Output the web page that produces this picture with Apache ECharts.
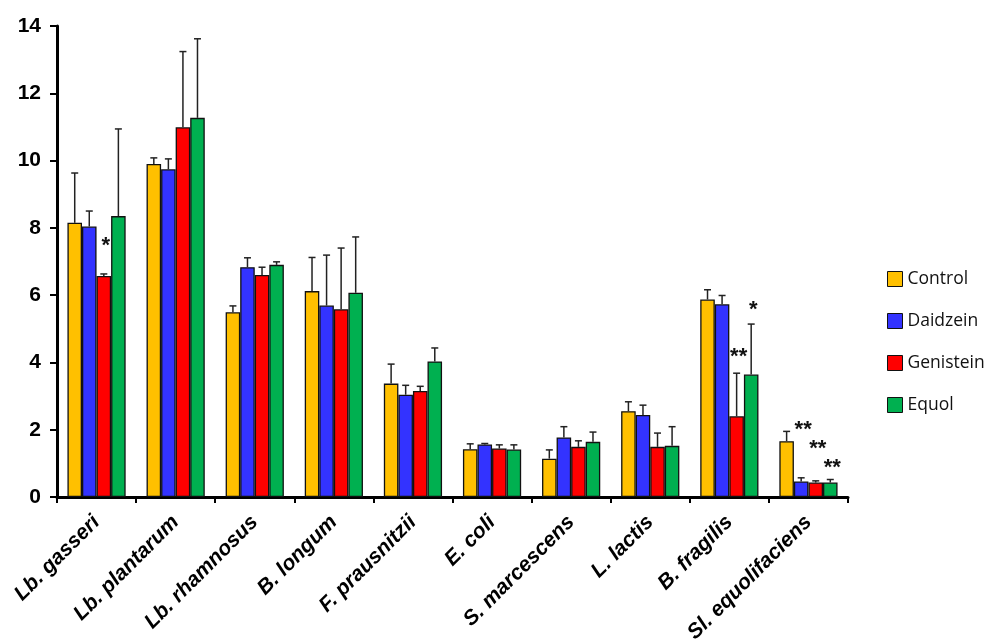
<!DOCTYPE html>
<html>
<head>
<meta charset="utf-8">
<script src="https://cdn.jsdelivr.net/npm/echarts@6/dist/echarts.min.js"></script>
<style>
  html, body { margin: 0; padding: 0; background: #fff; }
  #main { width: 986px; height: 641px; }
</style>
</head>
<body>
<div id="main"></div>
<script>
// data
var categories = ['Lb. gasseri', 'Lb. plantarum', 'Lb. rhamnosus', 'B. longum', 'F. prausnitzii',
  'E. coli', 'S. marcescens', 'L. lactis', 'B. fragilis', 'Sl. equolifaciens'];
var seriesNames = ['Control', 'Daidzein', 'Genistein', 'Equol'];
var colors = ['#FFC000', '#3333FF', '#FF0000', '#00B050'];

var control   = [8.15, 9.90, 5.49, 6.12, 3.37, 1.42, 1.14, 2.55, 5.87, 1.66];
var daidzein  = [8.04, 9.74, 6.83, 5.69, 3.04, 1.56, 1.77, 2.44, 5.73, 0.46];
var genistein = [6.57, 10.99, 6.60, 5.58, 3.15, 1.44, 1.49, 1.49, 2.40, 0.43];
var equol     = [8.35, 11.27, 6.90, 6.07, 4.03, 1.41, 1.64, 1.52, 3.64, 0.43];

// upper error (SD)
var controlErr   = [1.48, 0.18, 0.19, 1.00, 0.58, 0.16, 0.26, 0.28, 0.29, 0.29];
var daidzeinErr  = [0.46, 0.31, 0.28, 1.50, 0.28, 0.03, 0.32, 0.29, 0.26, 0.11];
var genisteinErr = [0.06, 2.25, 0.23, 1.82, 0.14, 0.11, 0.18, 0.41, 1.28, 0.05];
var equolErr     = [2.59, 2.35, 0.09, 1.66, 0.40, 0.14, 0.29, 0.57, 1.50, 0.09];

// significance marks: [category index, series index, y position, text]
var marks = [
  [0, 2, 7.45, '*'],
  [8, 2, 4.15, '**'],
  [8, 3, 5.55, '*'],
  [9, 1, 1.98, '**'],
  [9, 2, 1.44, '**'],
  [9, 3, 0.87, '**']
];

var yTicks = [0, 2, 4, 6, 8, 10, 12, 14];

var values = [control, daidzein, genistein, equol];
var errors = [controlErr, daidzeinErr, genisteinErr, equolErr];
var BAR_FRAC = 0.184;

var myChart = echarts.init(document.getElementById('main'));

var series = [];
values.forEach(function (v, s) {
  series.push({
    name: seriesNames[s],
    type: 'bar',
    data: v,
    barWidth: (BAR_FRAC * 100) + '%',
    barGap: '0%',
    itemStyle: { color: colors[s], borderColor: '#111', borderWidth: 1.3 }
  });
});

values.forEach(function (v, s) {
  series.push({
    type: 'custom',
    z: 5,
    silent: true,
    data: v.map(function (val, i) { return [i, val, errors[s][i]]; }),
    renderItem: function (params, api) {
      var band = api.size([1, 0])[0];
      var bw = band * BAR_FRAC;
      var base = api.coord([api.value(0), api.value(1)]);
      var top = api.coord([api.value(0), api.value(1) + api.value(2)]);
      var x = base[0] + (s - 1.5) * bw;
      var style = { stroke: '#222', lineWidth: 1.5 };
      return {
        type: 'group',
        children: [
          { type: 'line', shape: { x1: x, y1: base[1], x2: x, y2: top[1] }, style: style },
          { type: 'line', shape: { x1: x - 3.5, y1: top[1], x2: x + 3.5, y2: top[1] }, style: style }
        ]
      };
    }
  });
});

series.push({
  type: 'custom',
  z: 6,
  silent: true,
  data: marks,
  renderItem: function (params, api) {
    var band = api.size([1, 0])[0];
    var bw = band * BAR_FRAC;
    var p = api.coord([api.value(0), api.value(2)]);
    var x = p[0] + (api.value(1) - 1.5) * bw;
    return {
      type: 'text',
      style: {
        text: marks[params.dataIndex][3],
        x: x + 2,
        y: p[1],
        align: 'center',
        verticalAlign: 'middle',
        font: 'bold 22px "Liberation Sans", Arial, sans-serif',
        fill: '#111'
      }
    };
  }
});

myChart.setOption({
  animation: false,
  color: colors,
  grid: { left: 57, right: 138, top: 26, bottom: 144, outerBoundsMode: 'none', containLabel: false },
  legend: {
    orient: 'vertical',
    left: 882,
    top: 265,
    itemWidth: 15,
    itemHeight: 15,
    itemGap: 24,
    icon: 'rect',
    data: seriesNames,
    itemStyle: { borderColor: '#111', borderWidth: 1 },
    textStyle: { fontFamily: 'Open Sans', fontSize: 17.5, color: '#111' }
  },
  xAxis: {
    type: 'category',
    data: categories,
    axisLine: { lineStyle: { color: '#000', width: 3 } },
    axisTick: { show: true, length: 6, lineStyle: { color: '#000', width: 2 } },
    axisLabel: {
      interval: 0,
      rotate: 45,
      margin: 22,
      fontFamily: 'Liberation Sans',
      fontWeight: 'bold',
      fontStyle: 'italic',
      fontSize: 21,
      color: '#000'
    }
  },
  yAxis: {
    type: 'value',
    min: yTicks[0],
    max: yTicks[yTicks.length - 1],
    interval: 2,
    splitLine: { show: false },
    axisLine: { show: true, lineStyle: { color: '#000', width: 3 } },
    axisTick: { show: true, length: 7, lineStyle: { color: '#000', width: 2 } },
    axisLabel: {
      margin: 16,
      fontFamily: 'Liberation Sans',
      fontWeight: 'bold',
      fontSize: 21,
      color: '#000'
    }
  },
  series: series
});
</script>
</body>
</html>
